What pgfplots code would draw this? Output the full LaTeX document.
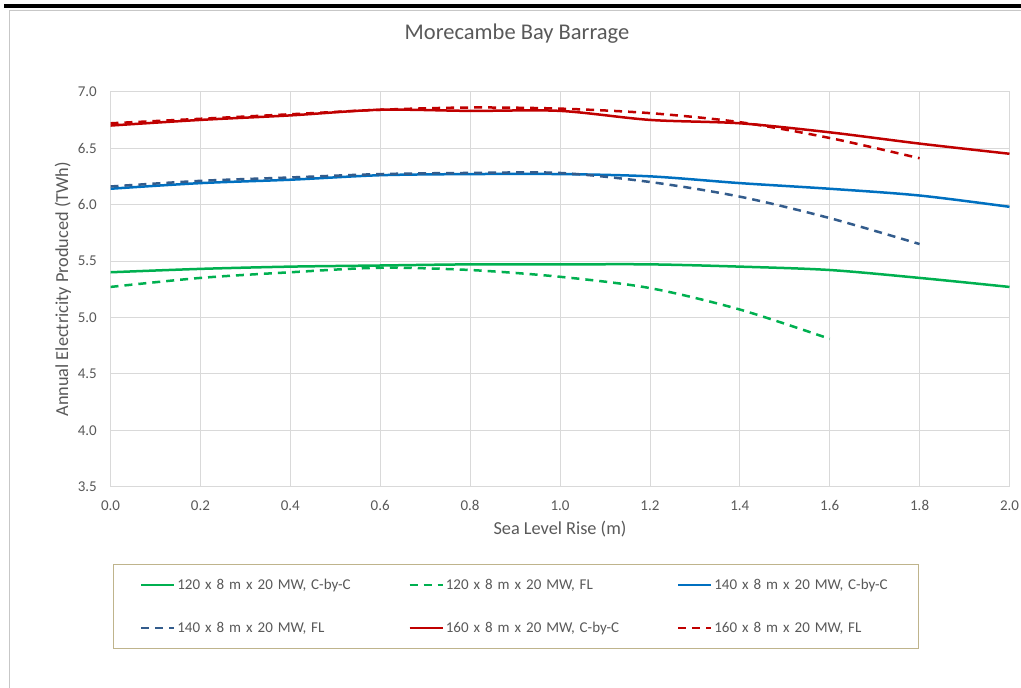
\documentclass[border=0pt]{standalone}
\usepackage{pgfplots}
\pgfplotsset{compat=1.18}
\usepackage{pgfplotstable}
\usepackage{fontspec}
\setmainfont{Carlito}
\definecolor{txt}{HTML}{595959}
\definecolor{gridc}{HTML}{D9D9D9}
\definecolor{cgreen}{HTML}{00B050}
\definecolor{cblue}{HTML}{0070C0}
\definecolor{cnavy}{HTML}{335C8C}
\definecolor{cred}{HTML}{C00000}
\definecolor{legframe}{HTML}{BFB48C}

\pgfplotstableread{
x gC gF bC bF rC rF
0.0 5.40 5.27 6.14 6.16 6.70 6.72
0.2 5.43 5.35 6.19 6.21 6.75 6.76
0.4 5.45 5.40 6.22 6.24 6.79 6.80
0.6 5.46 5.44 6.26 6.27 6.84 6.84
0.8 5.47 5.42 6.27 6.28 6.83 6.86
1.0 5.47 5.36 6.27 6.28 6.83 6.85
1.2 5.47 5.26 6.25 6.20 6.75 6.81
1.4 5.45 5.07 6.19 6.07 6.72 6.73
1.6 5.42 4.81 6.14 5.88 6.64 6.59
1.8 5.35 nan 6.08 5.65 6.54 6.41
2.0 5.27 nan 5.98 nan 6.45 nan
}\data

\begin{document}
\begin{tikzpicture}
\useasboundingbox (0bp,0bp) rectangle (1021bp,688bp);
% frame decorations
\fill[black] (4bp,680bp) rectangle (1021bp,684bp);
\draw[gridc!80!gray, line width=0.8bp] (9.5bp,0bp) -- (9.5bp,678bp) -- (1021bp,678bp);
\node[anchor=base, text=txt, font=\fontsize{22.5bp}{25bp}\selectfont] at (517bp,648bp) {Morecambe Bay Barrage};
\begin{axis}[
  at={(110.5bp,201.3bp)}, anchor=south west,
  scale only axis, width=899bp, height=395bp,
  xmin=0, xmax=2, ymin=3.5, ymax=7,
  xtick={0,0.2,...,2.01}, ytick={3.5,4,...,7.01},
  grid=major,
  major grid style={draw=gridc, line width=0.8bp},
  axis line style={draw=gridc, line width=0.8bp},
  major tick length=0pt,
  tick style={draw=none},
  ticklabel style={text=txt, font=\fontsize{15bp}{17bp}\selectfont},
  /pgf/number format/.cd, fixed, fixed zerofill, precision=1, assume math mode=true,
  /pgfplots/.cd,
  yticklabel style={inner sep=4bp, xshift=-9.5bp},
  xticklabel style={inner sep=4bp, yshift=-9.5bp},
  xlabel={Sea Level Rise (m)},
  ylabel={Annual Electricity Produced (TWh)},
  label style={text=txt, font=\fontsize{18.3bp}{20bp}\selectfont},
  xlabel style={at={(axis description cs:0.5,0)}, anchor=base, yshift=-47.3bp},
  ylabel style={at={(axis description cs:0,0.5)}, anchor=base, rotate=0, yshift=42.5bp},
  legend columns=3,
  legend cell align=left,
  legend image code/.code={\draw[#1] (0bp,0bp) -- (33bp,0bp);},
  legend style={
    at={(axis description cs:0.003,-0.1957)}, anchor=north west,
    draw=legframe, line width=1.2bp,
    inner xsep=26bp, inner ysep=13.5bp,
    font=\fontsize{15bp}{17bp}\selectfont, text=txt,
    nodes={inner sep=0pt, text width=178bp, align=left, text height=11bp, text depth=3bp},
    /tikz/every odd column/.append style={column sep=2bp},
    /tikz/every even column/.append style={column sep=53bp},
    /tikz/row sep=29bp,
  },
  every axis plot/.append style={line width=2.5bp, smooth},
]
\addplot[cgreen] table[x=x, y=gC] {\data};
\addlegendentry{120 x 8 m x 20 MW, C-by-C}
\addplot[cgreen, dash pattern=on 8bp off 6bp] table[x=x, y=gF] {\data};
\addlegendentry{120 x 8 m x 20 MW, FL}
\addplot[cblue] table[x=x, y=bC] {\data};
\addlegendentry{140 x 8 m x 20 MW, C-by-C}
\addplot[cnavy, dash pattern=on 8bp off 6bp] table[x=x, y=bF] {\data};
\addlegendentry{140 x 8 m x 20 MW, FL}
\addplot[cred] table[x=x, y=rC] {\data};
\addlegendentry{160 x 8 m x 20 MW, C-by-C}
\addplot[cred, dash pattern=on 8bp off 6bp] table[x=x, y=rF] {\data};
\addlegendentry{160 x 8 m x 20 MW, FL}
\end{axis}
\end{tikzpicture}
\end{document}
